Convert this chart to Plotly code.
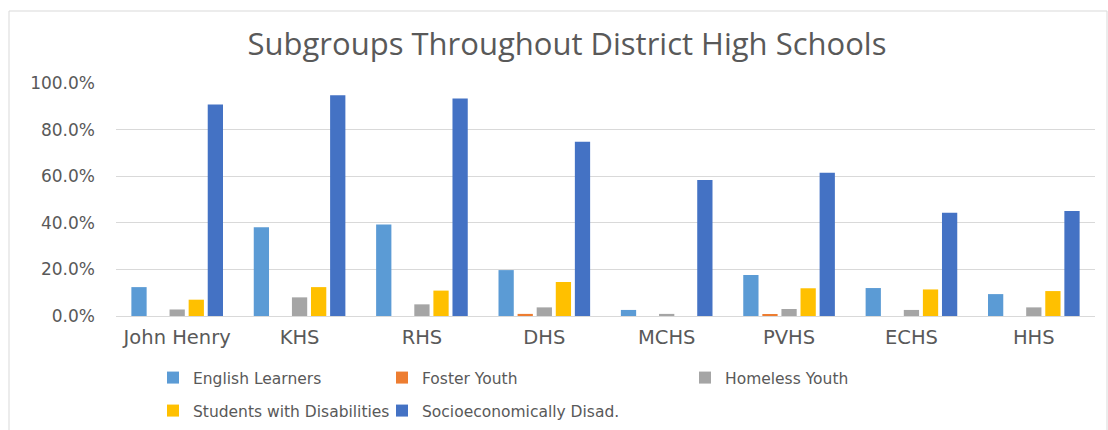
import plotly.graph_objects as go

# Share of students in each subgroup, per district high school
schools = ["John Henry", "KHS", "RHS", "DHS", "MCHS", "PVHS", "ECHS", "HHS"]
english_learners = [0.124, 0.381, 0.393, 0.197, 0.026, 0.176, 0.120, 0.094]
foster_youth = [0.0, 0.0, 0.0, 0.009, 0.0, 0.008, 0.0, 0.0]
homeless_youth = [0.028, 0.080, 0.050, 0.037, 0.009, 0.030, 0.026, 0.037]
students_with_disabilities = [0.070, 0.124, 0.109, 0.146, 0.0, 0.119, 0.114, 0.107]
socioeconomically_disad = [0.908, 0.947, 0.933, 0.748, 0.584, 0.615, 0.443, 0.451]
y_ticks = [0.0, 0.2, 0.4, 0.6, 0.8, 1.0]

W, H = 1108, 430
L, R, T, B = 116, 13, 83, 114
PW, PH = W - L - R, H - T - B


def px_x(x):
    return (x - L) / PW


def px_y(y):
    return (H - B - y) / PH


GREY_TEXT = "#595959"
FONT = "DejaVu Sans"

# name, values, colour, legend id, label start (px), row centre (px)
series = [
    ("English Learners", english_learners, "#5B9BD5", "legend", 193, 378),
    ("Foster Youth", foster_youth, "#ED7D31", "legend2", 422, 378),
    ("Homeless Youth", homeless_youth, "#A5A5A5", "legend3", 725, 378),
    ("Students with Disabilities", students_with_disabilities, "#FFC000", "legend4", 193, 411),
    ("Socioeconomically Disad.", socioeconomically_disad, "#4472C4", "legend5", 422, 411),
]

fig = go.Figure()
legend_layouts = {}
for name, vals, color, leg, lx, ly in series:
    fig.add_trace(go.Bar(
        x=schools, y=vals, name=name, marker_color=color,
        marker_line_width=0, legend=leg,
    ))
    legend_layouts[leg] = dict(
        x=(lx - 40) / W, y=1 - ly / H, xanchor="left", yanchor="middle",
        xref="container", yref="container", bgcolor="rgba(0,0,0,0)",
        font=dict(family=FONT, size=15.5, color=GREY_TEXT),
        itemwidth=30, tracegroupgap=0,
    )

fig.update_layout(
    width=W, height=H,
    margin=dict(l=L, r=R, t=T, b=B, autoexpand=False),
    paper_bgcolor="white", plot_bgcolor="white",
    barmode="group", bargap=0.22, bargroupgap=0.2,
    showlegend=True,
    title=dict(
        text="Subgroups Throughout District High Schools",
        xref="container", yref="container",
        x=567 / W, xanchor="center", y=1 - 44 / H, yanchor="middle",
        font=dict(family="Open Sans", size=31, color=GREY_TEXT),
    ),
    xaxis=dict(
        showgrid=False, showline=True, linecolor="#D9D9D9", linewidth=1,
        ticks="", tickfont=dict(family=FONT, size=19.5, color=GREY_TEXT),
        ticklabelstandoff=4,
    ),
    yaxis=dict(
        range=[0, 1.0], tickvals=y_ticks, tickformat=".1%",
        showgrid=True, gridcolor="#D9D9D9", gridwidth=1,
        zeroline=False, showline=False, ticks="",
        tickfont=dict(family=FONT, size=17, color=GREY_TEXT),
        ticklabelstandoff=20,
    ),
    shapes=[dict(
        type="rect", xref="paper", yref="paper",
        x0=px_x(9), x1=px_x(1107), y0=px_y(445), y1=px_y(11),
        line=dict(color="#D9D9D9", width=1), fillcolor="rgba(0,0,0,0)",
        layer="below",
    )],
    **legend_layouts,
)

fig.write_html("out.html")
